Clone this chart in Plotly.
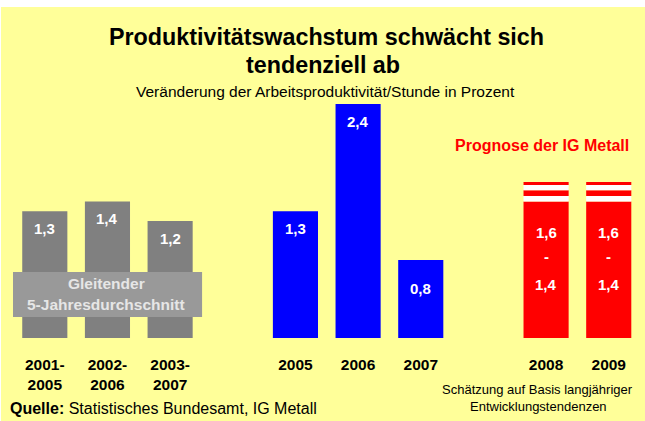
import plotly.graph_objects as go

# ---- data ----
avg_labels = ["2001-<br>2005", "2002-<br>2006", "2003-<br>2007"]
avg_values = [1.3, 1.4, 1.2]
year_labels = ["2005", "2006", "2007"]
year_values = [1.3, 2.4, 0.8]
prog_labels = ["2008", "2009"]
prog_low = [1.4, 1.4]
prog_high = [1.6, 1.6]

spacers = [" ", "  "]
categories = avg_labels + [spacers[0]] + year_labels + [spacers[1]] + prog_labels

FONT = "Liberation Sans, Arial, sans-serif"
W, H = 645, 421
ML, MR, MT, MB = 13, 5, 0, 83
PW, PH = W - ML - MR, H - MT - MB
PX_PER_UNIT = 97.5
BARW = 0.72


def fmt(v):
    return f"{v:.1f}".replace(".", ",")


def px(x):
    return (x - ML) / PW


def py(y):
    return (PH - y) / PH


def ci(lab):
    return categories.index(lab)


fig = go.Figure()

# invisible trace registering every category (incl. spacers)
fig.add_trace(go.Scatter(x=categories, y=[0] * len(categories), mode="markers",
                         marker=dict(opacity=0), hoverinfo="skip", showlegend=False))

fig.add_trace(go.Bar(x=avg_labels, y=avg_values, marker_color="#808080",
                     width=BARW, marker_line_width=0, showlegend=False))
fig.add_trace(go.Bar(x=year_labels, y=year_values, marker_color="#0000FF",
                     width=BARW, marker_line_width=0, showlegend=False))
fig.add_trace(go.Bar(x=prog_labels, y=prog_low, marker_color="#FF0000",
                     width=BARW, marker_line_width=0, showlegend=False))

# striped top of the forecast range (low -> high)
stripes = [(0.0, 0.28, "#FFFFFF"), (0.28, 0.58, "#FF0000"),
           (0.58, 0.85, "#FFFFFF"), (0.85, 1.0, "#FF0000")]
for f0, f1, col in stripes:
    bases = [lo + (hi - lo) * f0 for lo, hi in zip(prog_low, prog_high)]
    heights = [(hi - lo) * (f1 - f0) for lo, hi in zip(prog_low, prog_high)]
    fig.add_trace(go.Bar(x=prog_labels, y=heights, base=bases, marker_color=col,
                         width=BARW, marker_line_width=0, showlegend=False))

ann = []
label_font = dict(family=FONT, size=15, color="white")


def add_ann(**kw):
    kw.setdefault("showarrow", False)
    kw.setdefault("xanchor", "center")
    kw.setdefault("yanchor", "middle")
    ann.append(kw)


for lab, v in zip(avg_labels, avg_values):
    add_ann(x=ci(lab), y=v, xref="x", yref="y", text=f"<b>{fmt(v)}</b>",
            yshift=-17, font=label_font)
for lab, v in zip(year_labels, year_values):
    shift = -17 if v >= 1 else -28
    add_ann(x=ci(lab), y=v, xref="x", yref="y", text=f"<b>{fmt(v)}</b>",
            yshift=shift, font=label_font)
for lab, lo, hi in zip(prog_labels, prog_low, prog_high):
    for txt, sh in [(fmt(hi), -31), ("-", -55), (fmt(lo), -83)]:
        add_ann(x=ci(lab), y=lo, xref="x", yref="y", text=f"<b>{txt}</b>",
                yshift=sh, font=label_font)

# moving-average box
fig.add_shape(type="rect", xref="x", yref="y",
              x0=-0.54, x1=2.51, y0=0.215, y1=0.677,
              fillcolor="#999999", line_width=0, layer="above")
box_font = dict(family=FONT, size=15.5, color="#E6E6E6")
add_ann(x=px(106), y=py(283), xref="paper", yref="paper", text="<b>Gleitender</b>",
        font=box_font)
add_ann(x=px(106), y=py(304), xref="paper", yref="paper",
        text="<b>5-Jahresdurchschnitt</b>", font=box_font)

# titles
add_ann(x=px(326.5), y=py(37.5), xref="paper", yref="paper",
        text="<b>Produktivitätswachstum schwächt sich</b>",
        font=dict(family=FONT, size=23.3, color="black"))
add_ann(x=px(323), y=py(65), xref="paper", yref="paper",
        text="<b>tendenziell ab</b>",
        font=dict(family=FONT, size=23.3, color="black"))
add_ann(x=px(325), y=py(91), xref="paper", yref="paper",
        text="Veränderung der Arbeitsproduktivität/Stunde in Prozent",
        font=dict(family=FONT, size=15.5, color="black"))
add_ann(x=px(541.5), y=py(145), xref="paper", yref="paper",
        text="<b>Prognose der IG Metall</b>",
        font=dict(family=FONT, size=16, color="#FF0000"))
add_ann(x=px(8), y=py(408), xref="paper", yref="paper", xanchor="left",
        text="<b>Quelle:</b> Statistisches Bundesamt, IG Metall",
        font=dict(family=FONT, size=16, color="black"))
add_ann(x=px(537.5), y=py(390), xref="paper", yref="paper",
        text="Schätzung auf Basis langjähriger",
        font=dict(family=FONT, size=13, color="black"))
add_ann(x=px(538.5), y=py(406), xref="paper", yref="paper",
        text="Entwicklungstendenzen",
        font=dict(family=FONT, size=13, color="black"))

# white strip at the top/left edge of the slide
fig.add_shape(type="rect", xref="paper", yref="paper", x0=px(0), x1=px(W),
              y0=py(7), y1=py(0), fillcolor="white", line_width=0, layer="above")
fig.add_shape(type="rect", xref="paper", yref="paper", x0=px(0), x1=px(1),
              y0=py(H), y1=py(0), fillcolor="white", line_width=0, layer="above")

xmin = -(44.8 - ML) / 62.66
xmax = xmin + PW / 62.66

fig.update_layout(
    width=W, height=H,
    margin=dict(l=ML, r=MR, t=MT, b=MB),
    paper_bgcolor="#FFFF99", plot_bgcolor="#FFFF99",
    barmode="overlay",
    annotations=ann,
    font=dict(family=FONT),
    xaxis=dict(type="category", categoryorder="array", categoryarray=categories,
               range=[xmin, xmax], showgrid=False, zeroline=False, showline=False,
               ticks="", tickfont=dict(family=FONT, size=15.5, color="black"),
               tickvals=categories, ticktext=[f"<b>{c}</b>" if c.strip() else "" for c in categories],
               ticklabelstandoff=15, fixedrange=True),
    yaxis=dict(range=[0, PH / PX_PER_UNIT], visible=False, fixedrange=True),
)

fig.write_html("out.html", config={"displayModeBar": False},
               post_script="document.body.style.margin='0';document.body.style.overflow='hidden';")
